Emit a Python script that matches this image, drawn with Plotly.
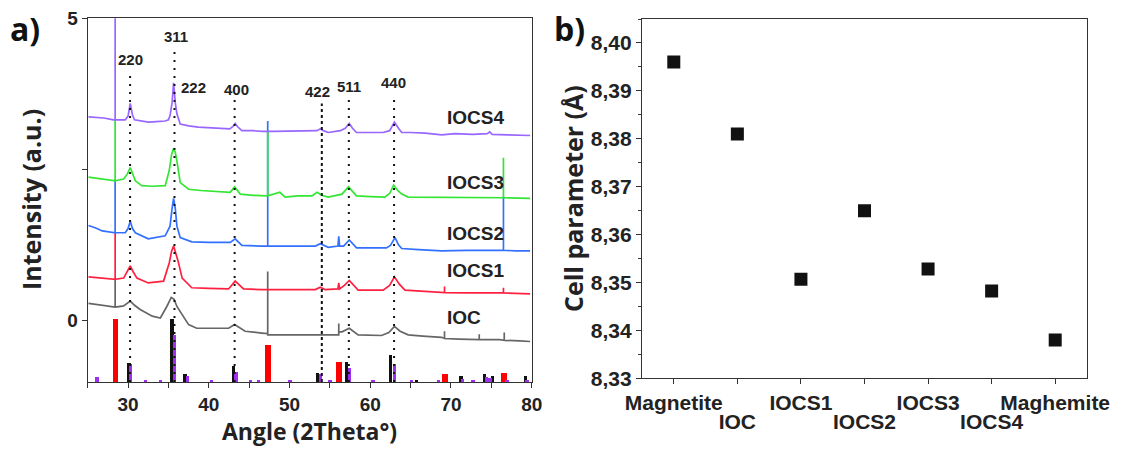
import plotly.graph_objects as go

# ---------------- Panel a: XRD patterns ----------------
iocs4_x = [25.1, 26.0, 27.0, 28.2, 28.4, 28.4, 28.4, 29.65, 30.0, 30.27, 30.55, 30.8, 31.5, 32.5, 33.5,
           34.6, 35.0, 35.2, 35.45, 35.64, 35.85, 36.05, 36.46, 37.5, 38.7, 40.0, 41.5, 42.6, 43.0, 43.27,
           43.6, 44.1, 45.5, 46.57, 48.0, 50.0, 52.0, 53.4, 53.8, 54.2, 54.8, 56.3, 56.9, 57.4, 57.8,
           58.3, 60.0, 61.6, 62.4, 63.0, 63.5, 63.9, 65.0, 66.8, 68.85, 70.5, 72.7, 74.5, 74.8, 75.1,
           77.0, 79.8]
iocs4_y = [3.37, 3.36, 3.35, 3.32, 3.32, 6.0, 3.32, 3.32, 3.38, 3.59, 3.40, 3.32, 3.30, 3.28, 3.29,
           3.30, 3.32, 3.39, 3.60, 3.93, 3.60, 3.42, 3.25, 3.22, 3.20, 3.19, 3.18, 3.17, 3.21, 3.26,
           3.20, 3.14, 3.14, 3.13, 3.13, 3.13, 3.13, 3.14, 3.17, 3.14, 3.11, 3.14, 3.18, 3.26, 3.18,
           3.11, 3.11, 3.11, 3.14, 3.28, 3.18, 3.11, 3.11, 3.10, 3.07, 3.09, 3.08, 3.09, 3.12, 3.08,
           3.07, 3.06]

iocs3_x = [25.1, 26.5, 28.2, 28.4, 28.4, 28.4, 29.45, 29.9, 30.27, 30.6, 30.9, 31.7, 33.0, 34.6, 35.1,
           35.4, 35.64, 35.85, 36.05, 36.46, 37.5, 39.0, 41.0, 42.65, 43.2, 43.9, 45.5, 47.3, 47.3, 47.3,
           48.8, 49.45, 51.0, 52.8, 53.4, 54.0, 54.8, 56.5, 57.3, 57.9, 58.3, 60.0, 61.8, 62.4, 62.9,
           63.4, 63.9, 64.7, 66.5, 68.85, 72.0, 74.5, 76.5, 76.5, 76.5, 79.8]
iocs3_y = [2.37, 2.34, 2.31, 2.31, 3.32, 2.31, 2.34, 2.42, 2.53, 2.40, 2.31, 2.23, 2.22, 2.23, 2.48,
           2.75, 2.85, 2.78, 2.64, 2.28, 2.17, 2.15, 2.13, 2.12, 2.21, 2.09, 2.07, 2.06, 3.13, 2.06,
           2.12, 2.04, 2.06, 2.06, 2.12, 2.07, 2.04, 2.09, 2.21, 2.12, 2.06, 2.05, 2.04, 2.10, 2.24,
           2.15, 2.09, 2.04, 2.04, 2.04, 2.03, 2.03, 2.03, 2.69, 2.03, 2.02]

iocs2_x = [25.1, 26.0, 26.8, 28.2, 28.4, 28.4, 28.4, 29.65, 30.0, 30.27, 30.55, 30.9, 32.5, 34.6, 35.2,
           35.45, 35.64, 35.85, 36.05, 36.46, 37.9, 40.0, 42.65, 43.27, 44.1, 46.57, 47.3, 47.3, 47.3,
           47.8, 50.0, 53.2, 53.8, 54.8, 56.0, 56.1, 56.2, 56.7, 57.4, 58.3, 60.0, 62.0, 62.5, 63.07,
           63.5, 63.9, 66.0, 68.85, 72.0, 76.5, 76.5, 76.5, 78.0, 79.8]
iocs2_y = [1.57, 1.53, 1.48, 1.45, 1.45, 2.33, 1.45, 1.45, 1.52, 1.64, 1.52, 1.45, 1.35, 1.40, 1.56,
           1.85, 2.02, 1.85, 1.56, 1.37, 1.30, 1.29, 1.29, 1.35, 1.24, 1.23, 1.23, 3.30, 1.23,
           1.23, 1.23, 1.23, 1.27, 1.21, 1.23, 1.39, 1.23, 1.23, 1.33, 1.20, 1.20, 1.20, 1.24, 1.37,
           1.25, 1.19, 1.17, 1.15, 1.16, 1.16, 2.05, 1.16, 1.15, 1.15]

iocs1_x = [25.1, 26.5, 28.2, 28.4, 28.4, 28.4, 29.45, 29.9, 30.27, 30.65, 31.1, 32.5, 34.4, 35.1, 35.4,
           35.64, 35.9, 36.2, 36.7, 37.9, 40.0, 42.45, 43.27, 44.3, 46.57, 50.0, 53.2, 53.8, 54.4, 56.0,
           56.1, 56.2, 56.8, 57.4, 58.0, 58.5, 61.6, 62.4, 63.0, 63.6, 64.3, 66.0, 69.2, 69.2, 69.2,
           72.0, 76.5, 76.5, 76.5, 79.8]
iocs1_y = [0.72, 0.70, 0.68, 0.68, 1.45, 0.68, 0.70, 0.80, 0.90, 0.80, 0.70, 0.62, 0.65, 0.95, 1.15,
           1.23, 1.12, 0.98, 0.70, 0.54, 0.53, 0.52, 0.65, 0.52, 0.51, 0.51, 0.51, 0.55, 0.51, 0.52,
           0.62, 0.52, 0.58, 0.66, 0.58, 0.50, 0.50, 0.58, 0.72, 0.60, 0.50, 0.49, 0.46, 0.56, 0.46,
           0.455, 0.455, 0.54, 0.455, 0.44]

ioc_x = [25.1, 26.5, 28.2, 28.4, 28.4, 28.4, 29.45, 29.9, 30.27, 30.8, 31.5, 33.0, 34.0, 34.8, 35.35,
         35.7, 36.05, 37.5, 38.5, 40.0, 42.45, 43.2, 44.5, 46.57, 47.3, 47.3, 47.3, 50.0, 53.0, 54.0,
         56.1, 56.1, 56.1, 56.5, 57.4, 58.5, 61.4, 62.3, 63.0, 63.7, 64.7, 66.5, 68.85, 69.2, 69.2,
         69.2, 71.0, 73.5, 73.5, 73.5, 76.0, 76.6, 76.6, 76.6, 78.5, 79.8]
ioc_y = [0.28, 0.25, 0.22, 0.22, 0.68, 0.22, 0.24, 0.28, 0.32, 0.25, 0.18, 0.07, 0.04, 0.23, 0.38,
         0.35, 0.23, -0.07, -0.13, -0.13, -0.13, -0.07, -0.18, -0.21, -0.22, 0.81, -0.24, -0.24, -0.24, -0.24,
         -0.24, -0.05, -0.19, -0.19, -0.13, -0.24, -0.25, -0.20, -0.10, -0.18, -0.24, -0.26, -0.28, -0.30, -0.18,
         -0.30, -0.31, -0.32, -0.23, -0.32, -0.32, -0.33, -0.20, -0.33, -0.34, -0.35]

sample_names = ["IOCS4", "IOCS3", "IOCS2", "IOCS1", "IOC"]
sample_label_y = [3.35, 2.28, 1.43, 0.82, 0.04]

# reference patterns (bar tops, baseline at bottom of axis)
ref_red_x = [28.4, 47.3, 56.1, 69.2, 76.5]
ref_red_top = [0.02, -0.415, -0.69, -0.90, -0.87]
ref_black_x = [30.1, 35.4, 37.0, 43.0, 53.4, 57.0, 62.5, 65.7, 71.2, 74.1, 75.1, 79.2]
ref_black_top = [-0.71, 0.02, -0.90, -0.76, -0.87, -0.70, -0.58, -0.99, -0.93, -0.89, -0.93, -0.93]
ref_purple_x = [26.1, 30.3, 32.1, 34.0, 35.7, 37.3, 40.3, 43.35, 45.1, 46.1, 50.0, 53.8, 55.0, 57.4,
                60.3, 63.0, 65.1, 68.4, 71.4, 72.7, 74.4, 74.8, 76.9, 79.4]
ref_purple_top = [-0.94, -0.735, -0.99, -0.99, -0.24, -0.93, -0.99, -0.86, -0.99, -0.99, -0.99, -0.90,
                  -0.99, -0.80, -0.99, -0.72, -0.99, -0.99, -0.97, -0.99, -0.95, -0.96, -0.99, -0.99]

# Miller indices
hkl_line_x = [30.25, 35.75, 43.2, 54.0, 57.35, 62.95]
hkl_line_top = [4.08, 4.52, 3.69, 3.59, 3.67, 3.69]
hkl_text = ["220", "311", "222", "400", "422", "511", "440"]
hkl_text_x = [30.27, 35.97, 38.15, 43.38, 53.48, 57.37, 62.87]
hkl_text_y = [4.31, 4.70, 3.85, 3.82, 3.79, 3.87, 3.93]

# ---------------- Panel b: cell parameter ----------------
samples_b = ["Magnetite", "IOC", "IOCS1", "IOCS2", "IOCS3", "IOCS4", "Maghemite"]
cell_param = [8.396, 8.381, 8.3507, 8.365, 8.3528, 8.3482, 8.338]
cell_ticks = [8.33, 8.34, 8.35, 8.36, 8.37, 8.38, 8.39, 8.40]

# ---------------- styling ----------------
W, H = 1141, 450
BASE = -1.02
TICKFONT_A = dict(family="Liberation Sans", size=19, color="#222", weight="bold")
TICKFONT_B = dict(family="Liberation Sans", size=21, color="#222", weight="bold")
TITLEFONT = dict(family="Open Sans", size=25, color="#222", weight="bold")
XTITLEFONT = dict(family="Open Sans", size=23, color="#222", weight="bold")
AXCOL = "#333"

fig = go.Figure()

# reference bars
for xs, tops, col, wd in [(ref_red_x, ref_red_top, "#ff0000", 0.7),
                          (ref_black_x, ref_black_top, "#111111", 0.42),
                          (ref_purple_x, ref_purple_top, "#a030f0", 0.42)]:
    fig.add_trace(go.Bar(x=xs, y=[t - BASE for t in tops], base=BASE, width=wd,
                         marker=dict(color=col, line=dict(width=0)),
                         xaxis="x", yaxis="y", showlegend=False, hoverinfo="skip"))

# patterns
for xs, ys, col in [(ioc_x, ioc_y, "#666666"), (iocs1_x, iocs1_y, "#ff2040"),
                    (iocs2_x, iocs2_y, "#3370ff"), (iocs3_x, iocs3_y, "#33e633"),
                    (iocs4_x, iocs4_y, "#9966ff")]:
    fig.add_trace(go.Scatter(x=xs, y=ys, mode="lines", line=dict(color=col, width=1.7),
                             xaxis="x", yaxis="y", showlegend=False, hoverinfo="skip"))

# dotted index lines
for xv, top in zip(hkl_line_x, hkl_line_top):
    dash = "3px,3px" if abs(xv - 54.0) < 0.1 else "2px,6px"
    fig.add_trace(go.Scatter(x=[xv, xv], y=[BASE, top], mode="lines",
                             line=dict(color="#111", width=2, dash=dash),
                             xaxis="x", yaxis="y", showlegend=False, hoverinfo="skip"))

# panel b markers
fig.add_trace(go.Scatter(x=list(range(len(samples_b))), y=cell_param, mode="markers",
                         marker=dict(symbol="square", size=13, color="#111"),
                         xaxis="x2", yaxis="y2", showlegend=False, hoverinfo="skip"))
# invisible trace to activate the second row of category labels
fig.add_trace(go.Scatter(x=[0], y=[8.37], mode="markers", marker=dict(opacity=0),
                         xaxis="x3", yaxis="y2", showlegend=False, hoverinfo="skip"))

annotations = []
for t, xv, yv in zip(hkl_text, hkl_text_x, hkl_text_y):
    annotations.append(dict(text=t, x=xv, y=yv, xref="x", yref="y", showarrow=False,
                            font=dict(family="Liberation Sans", size=15, color="#222", weight="bold")))
for t, yv in zip(sample_names, sample_label_y):
    annotations.append(dict(text=t, x=69.3, y=yv, xref="x", yref="y", showarrow=False,
                            xanchor="left", yanchor="middle",
                            font=dict(family="Liberation Sans", size=19, color="#222", weight="bold")))


def pa(text, px, py, font, angle=0):
    return dict(text=text, x=px / W, y=1 - py / H, xref="paper", yref="paper", showarrow=False,
                xanchor="center", yanchor="middle", textangle=angle, font=font)


annotations += [
    pa("a)", 25, 29, dict(family="Open Sans", size=32, color="#111", weight="bold")),
    pa("b)", 569, 29, dict(family="Open Sans", size=32, color="#111", weight="bold")),
    pa("Intensity (a.u.)", 31, 200, TITLEFONT, -90),
    pa("Angle (2Theta°)", 309.7, 431, XTITLEFONT),
    pa("Cell parameter (Å)", 573, 199, TITLEFONT, -90),
]

xa_ticks = list(range(25, 81, 5))
common = dict(showline=True, mirror=True, linecolor=AXCOL, linewidth=1.3, showgrid=False,
              zeroline=False, ticks="outside", ticklen=5, tickwidth=1.3, tickcolor=AXCOL,
              automargin=False)

idx_b = list(range(len(samples_b)))
fig.update_layout(
    width=W, height=H, margin=dict(l=0, r=0, t=0, b=0),
    paper_bgcolor="white", plot_bgcolor="white", barmode="overlay", bargap=0,
    xaxis=dict(domain=[87.7 / W, 531.7 / W], range=[25, 80], tickvals=xa_ticks,
               ticktext=[str(v) if v % 10 == 0 else "" for v in xa_ticks], anchor="y",
               tickfont=TICKFONT_A, **common),
    yaxis=dict(domain=[1 - 382 / H, 1 - 18.3 / H], range=[BASE, 5.0], tickvals=[0, 2.5, 5],
               ticktext=["0", "", "5"], anchor="x", tickfont=TICKFONT_A, **common),
    xaxis2=dict(domain=[642 / W, 1087 / W], range=[-0.5, 6.5], tickvals=idx_b,
                ticktext=[s if i % 2 == 0 else "" for i, s in enumerate(samples_b)],
                anchor="y2", tickfont=TICKFONT_B, **common),
    xaxis3=dict(domain=[642 / W, 1087 / W], range=[-0.5, 6.5], overlaying="x2", side="bottom",
                anchor="y2", tickvals=idx_b[1::2], ticktext=samples_b[1::2], ticks="",
                showline=False, showgrid=False, zeroline=False, tickfont=TICKFONT_B,
                ticklabelstandoff=29, automargin=False),
    yaxis2=dict(domain=[1 - 378.3 / H, 1 - 19 / H], range=[8.33, 8.405], tickvals=cell_ticks,
                ticktext=[f"{v:.2f}".replace(".", ",") for v in cell_ticks], anchor="x2",
                tickfont=TICKFONT_B,
                minor=dict(dtick=0.005, ticks="outside", ticklen=3, tickcolor=AXCOL), **common),
    annotations=annotations,
)

# remove the browser's default page margin so the figure sits at the window's corner
fig.write_html("out.html", config={"displayModeBar": False},
               post_script="document.body.style.margin='0px';")
